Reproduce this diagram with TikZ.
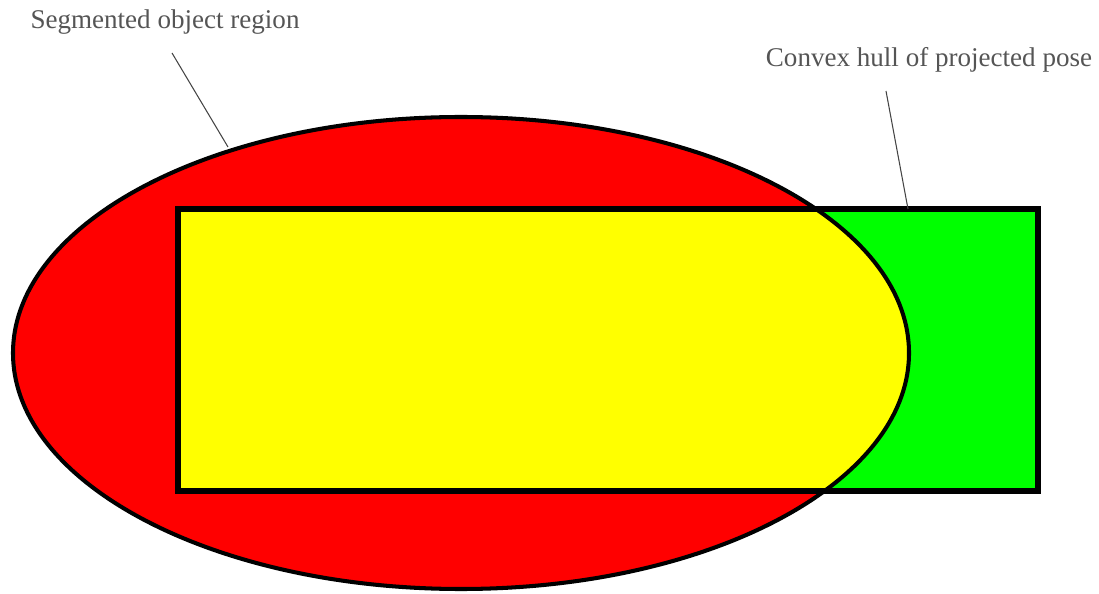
\documentclass[tikz,border=0pt]{standalone}
\usepackage{fontspec}
\setmainfont{Liberation Serif}
\usepackage{tikz}
\usetikzlibrary{positioning}

\definecolor{segred}{RGB}{255,0,0}
\definecolor{poseyellow}{RGB}{255,255,0}
\definecolor{posegreen}{RGB}{0,255,0}
\definecolor{labelgray}{RGB}{85,85,85}

\begin{document}
\begin{tikzpicture}[
  x=0.02cm, y=-0.02cm,
  lbl/.style={text=labelgray,font=\fontsize{15.4pt}{18pt}\selectfont,inner sep=0pt},
  leader/.style={draw=labelgray!80!black,line width=0.6pt},
  outline/.style={draw=black,line width=2.3pt},
  hull/.style={draw=black,line width=3.6pt}
]
  \useasboundingbox (0,0) rectangle (1099,594);

  % segmented region and projected pose
  \fill[segred] (461,353) ellipse [x radius=448,y radius=236];
  \fill[posegreen] (178,209) rectangle (1038,491);
  \begin{scope}
    \clip (461,353) ellipse [x radius=448,y radius=236];
    \fill[poseyellow] (178,209) rectangle (1038,491);
  \end{scope}
  \draw[hull] (178,209) rectangle (1038,491);
  \draw[outline] (461,353) ellipse [x radius=448,y radius=236];

  % labels
  \node[lbl] (seglabel) at (165,22) {Segmented object region};
  \node[lbl] (hulllabel) at (929,60) {Convex hull of projected pose};
  \coordinate (segfoot) at (172,53);
  \coordinate (segtip) at (228,147);
  \coordinate (hullfoot) at (886,91);
  \coordinate (hulltip) at (908,209);
  \draw[leader] (segfoot) -- (segtip);
  \draw[leader] (hullfoot) -- (hulltip);
\end{tikzpicture}
\end{document}
